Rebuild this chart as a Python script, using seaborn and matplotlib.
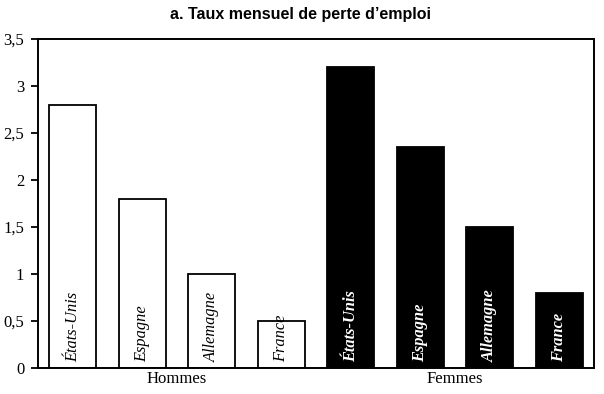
import pandas as pd
import seaborn as sns
import matplotlib.pyplot as plt
import matplotlib.ticker as ticker

# data
pays = ['États-Unis', 'Espagne', 'Allemagne', 'France']
hommes = [2.8, 1.8, 1.0, 0.5]
femmes = [3.2, 2.35, 1.5, 0.8]
groupes = ['Hommes', 'Femmes']

df = pd.DataFrame({
    'pays': pays + pays,
    'sexe': ['Hommes'] * len(pays) + ['Femmes'] * len(pays),
    'taux': hommes + femmes,
})
df['barre'] = df['sexe'] + ' ' + df['pays']

sns.set_style('white')
plt.rcParams['font.family'] = ['Liberation Serif', 'DejaVu Serif']
plt.rcParams['text.color'] = 'black'
plt.rcParams['xtick.color'] = 'black'
plt.rcParams['ytick.color'] = 'black'

fig = plt.figure(figsize=(6.04, 3.94), dpi=100)
ax = fig.add_axes([0.063, 0.066, 0.9205, 0.835])

ax = sns.barplot(data=df, x='barre', y='taux', hue='sexe', order=list(df['barre']),
                 palette={'Hommes': 'white', 'Femmes': 'black'}, dodge=False,
                 width=0.68, edgecolor='black', linewidth=1.3, legend=False, ax=ax)

# country names written inside the bars
for i, row in df.iterrows():
    blanc = row['sexe'] == 'Femmes'
    ax.text(i, 0.06, row['pays'], rotation=90, ha='center', va='bottom',
            style='italic', fontsize=11.8, fontweight='bold' if blanc else 'normal',
            color='white' if blanc else 'black')

ax.set_xlim(-0.5, 7.5)
ax.set_ylim(0, 3.5)
ax.yaxis.set_major_locator(ticker.MultipleLocator(0.5))
ax.yaxis.set_major_formatter(ticker.FuncFormatter(lambda v, p: f'{v:g}'.replace('.', ',')))

# group labels under the two blocks of bars
ax.set_xticks([1.5, 5.5])
ax.set_xticklabels(groupes, fontsize=12)
ax.tick_params(axis='x', length=0, pad=2)
ax.tick_params(axis='y', left=True, direction='out', length=5, width=1.3, labelsize=12, pad=5)

for s in ax.spines.values():
    s.set_visible(True)
    s.set_color('black')
    s.set_linewidth(1.4)

ax.set_xlabel('')
ax.set_ylabel('')
fig.text(0.497, 0.964, 'a. Taux mensuel de perte d\u2019emploi', ha='center', va='center',
         fontsize=11.5, fontweight='bold', family='Liberation Sans', color='black')

fig.savefig('out.png', dpi=100)
